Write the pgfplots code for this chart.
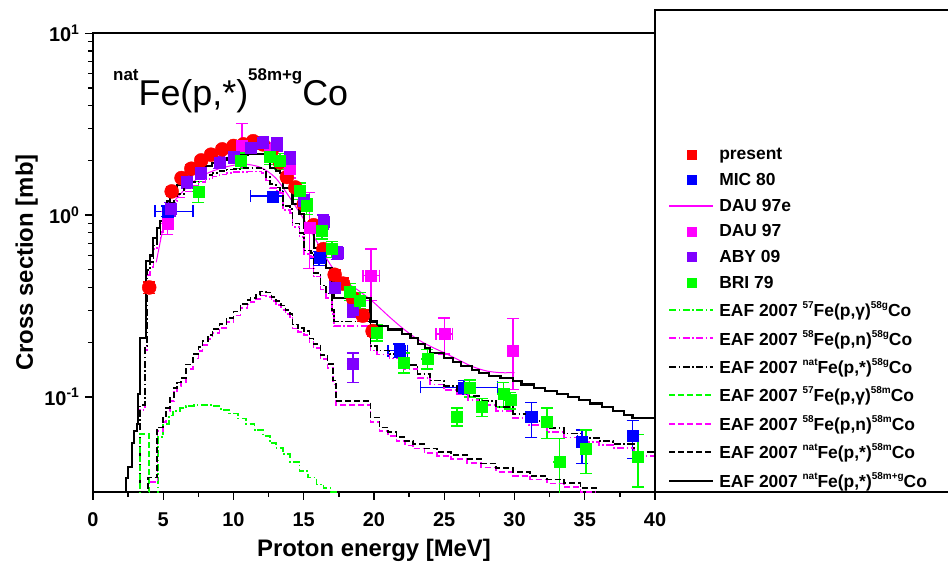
\documentclass[border=0pt]{standalone}
\usepackage{fontspec}
\setmainfont{Liberation Sans}
\usepackage{pgfplots}
\pgfplotsset{compat=1.18}
\definecolor{cred}{RGB}{255,0,0}
\definecolor{cblue}{RGB}{0,0,255}
\definecolor{cmag}{RGB}{255,0,255}
\definecolor{cvio}{RGB}{128,0,255}
\definecolor{cgrn}{RGB}{0,255,0}
\newcommand\sps[1]{\raisebox{8bp}{\fontsize{10}{10}\selectfont #1}}
\tikzset{
  dd/.style={dash pattern=on 7bp off 2.5bp on 1.5bp off 2.5bp},
  ds/.style={dash pattern=on 6bp off 3bp},
}
\pgfplotsset{
  legmark/.style={legend image code/.code={\draw[##1,mark size=4.5bp,mark=square*] plot coordinates {(22bp,0bp)};}},
  legline/.style={legend image code/.code={\draw[##1] (0bp,0bp) -- (44bp,0bp);}},
  dat/.style={only marks, mark=square*, mark size=5.5bp, color=#1, mark options={fill=#1,draw=#1},
    error bars/x dir=both, error bars/x explicit, error bars/y dir=both, error bars/y explicit,
    error bars/error bar style={line width=1.5bp,color=#1},
    error bars/error mark options={rotate=90, mark size=6bp, line width=1.5bp, color=#1}},
  eaf/.style={const plot, line width=1.7bp, color=#1},
}
\begin{document}
\begin{tikzpicture}
\useasboundingbox (0,0) rectangle (948bp,572bp);
\begin{axis}[
  at={(93bp,80bp)}, anchor=south west,
  scale only axis, width=562bp, height=458.7bp,
  ymode=log, xmin=0, xmax=40, ymin=0.03, ymax=10,
  xtick={0,5,...,40}, minor x tick num=1,
  ytick={0.1,1,10},
  yticklabels={10\textsuperscript{-1},10\textsuperscript{0},10\textsuperscript{1}},
  tick pos=left, tick align=outside,
  major tick length=8bp, minor tick length=5bp,
  every tick/.style={black, line width=1.3bp},
  axis line style={line width=1.8bp},
  /pgf/number format/assume math mode=true,
  tick label style={font=\fontsize{20}{20}\selectfont\bfseries},
  xticklabel style={anchor=base, yshift=-27bp},
  yticklabel style={anchor=east, xshift=-2bp},
  xlabel={Proton energy [MeV]},
  ylabel={Cross section [mb]},
  label style={font=\fontsize{24}{24}\selectfont\bfseries},
  xlabel style={at={(axis description cs:0.5,-0.1417)}, anchor=base},
  ylabel style={at={(axis description cs:-0.1068,0.5)}, anchor=base, rotate=0},
  legend cell align=left,
  legend style={at={(axis description cs:1,0)}, anchor=south west, xshift=13bp, yshift=1bp,
    draw=none, fill=none, inner sep=0pt, row sep=8bp,
    font=\fontsize{17.5}{17.5}\selectfont\bfseries,
    nodes={inner sep=2bp},
    /tikz/every odd column/.append style={column sep=3bp}},
]
% present
\addplot[dat=cred, mark=*, mark size=7bp, legmark] coordinates {
(4.0,0.40) +- (0,0.03)
(5.6,1.35) +- (0,0.08)
(6.3,1.6) +- (0,0.09)
(7.0,1.8) +- (0,0.1)
(7.7,2.0) +- (0,0.1)
(8.4,2.15) +- (0,0.1)
(9.2,2.3) +- (0,0.1)
(10.0,2.4) +- (0,0.1)
(10.7,2.45) +- (0,0.1)
(11.4,2.55) +- (0,0.1)
(12.1,2.45) +- (0,0.1)
(12.7,2.25) +- (0,0.1)
(13.3,1.95) +- (0,0.1)
(13.8,1.62) +- (0,0.08)
(14.4,1.42) +- (0,0.07)
(15.0,1.15) +- (0,0.06)
(15.7,0.88) +- (0,0.05)
(16.4,0.65) +- (0,0.04)
(17.2,0.47) +- (0,0.03)
(17.8,0.42) +- (0,0.03)
(18.5,0.35) +- (0,0.02)
(19.2,0.28) +- (0,0.02)
(19.9,0.23) +- (0,0.015)
};
\addlegendentry{present}
% MIC 80
\addplot[dat=cblue, legmark] coordinates {
(5.3,1.05) += (1.8,0.07) -= (0.9,0.07)
(12.8,1.27) += (0.7,0.08) -= (1.6,0.08)
(16.1,0.58) += (0.5,0.05) -= (0.7,0.05)
(21.8,0.18) += (0.6,0.015) -= (0.8,0.015)
(26.4,0.113) += (2.4,0.01) -= (3.1,0.01)
(31.2,0.078) += (0.4,0.015) -= (0.4,0.018)
(34.8,0.057) += (0.3,0.009) -= (0.3,0.014)
(38.4,0.061) += (0.2,0.013) -= (0.2,0.015)
};
\addlegendentry{MIC 80}
% DAU 97e
\addplot[color=cmag, draw=cmag, line width=1bp, smooth,
  legend image code/.code={\draw[draw=cmag, line width=1.6bp] (0bp,0bp) -- (44bp,0bp);}] coordinates {
(4.5,0.55) (5,0.85) (5.5,1.1) (6,1.25) (7,1.5) (8,1.68) (9,1.8) (10,1.88) (11,1.9)
(12,1.82) (13,1.6) (14,1.25) (15,0.95) (16,0.7) (17,0.52) (18,0.43) (19,0.38)
(20,0.33) (21,0.28) (22,0.24) (23,0.21) (24,0.19) (25,0.175) (26,0.16)
(27,0.147) (28,0.139) (29,0.136) (30,0.136)
};
\addlegendentry{DAU 97e}
% DAU 97
\addplot[dat=cmag, legmark] coordinates {
(5.3,0.9) += (0,0.15) -= (0,0.12)
(10.6,2.4) += (0,0.8) -= (0,0.6)
(12.6,2.3) += (0,0.2) -= (0,0.2)
(14.0,1.8) += (0,0.2) -= (0,0.2)
(15.4,0.85) += (0,0.48) -= (0,0.34)
(19.8,0.465) += (0.6,0.185) -= (0.6,0.125)
(25.0,0.222) += (0.6,0.05) -= (0.6,0.05)
(29.9,0.18) += (0,0.09) -= (0,0.07)
};
\addlegendentry{DAU 97}
% ABY 09
\addplot[dat=cvio, legmark] coordinates {
(5.5,1.08) +- (0,0.09)
(6.7,1.52) +- (0,0.12)
(7.7,1.72) +- (0,0.14)
(9.0,1.95) +- (0,0.15)
(10.0,2.1) +- (0,0.17)
(11.2,2.35) +- (0,0.19)
(12.1,2.5) +- (0,0.2)
(13.1,2.45) +- (0,0.2)
(14.0,2.05) +- (0,0.17)
(15.0,1.2) +- (0,0.1)
(16.4,0.92) +- (0,0.08)
(17.4,0.62) +- (0,0.05)
(17.2,0.40) +- (0,0.03)
(18.5,0.30) +- (0,0.025)
(18.5,0.152) += (0,0.023) -= (0,0.032)
};
\addlegendentry{ABY 09}
% BRI 79
\addplot[dat=cgrn, legmark] coordinates {
(7.5,1.35) +- (0,0.18)
(10.5,2.0) +- (0,0.2)
(12.6,2.1) +- (0,0.2)
(13.3,1.98) +- (0,0.2)
(14.7,1.36) +- (0,0.14)
(15.2,1.12) +- (0,0.11)
(16.3,0.82) +- (0,0.08)
(17.0,0.65) +- (0,0.065)
(18.3,0.38) +- (0,0.04)
(19.0,0.34) +- (0,0.035)
(20.2,0.226) +- (0,0.023)
(22.1,0.155) +- (0,0.02)
(23.8,0.162) +- (0,0.02)
(25.9,0.078) +- (0,0.009)
(26.8,0.112) +- (0,0.012)
(27.7,0.088) +- (0,0.01)
(29.2,0.104) +- (0,0.016)
(29.7,0.096) +- (0,0.01)
(32.3,0.073) +- (0,0.014)
(33.2,0.044) +- (0,0.015)
(35.1,0.052) +- (0,0.014)
(38.8,0.047) +- (0,0.015)
};
\addlegendentry{BRI 79}
% EAF 57Fe(p,g)58gCo
\addplot[eaf=cgrn, dd, legline] coordinates {
(4.6,0.02) (4.65,0.06) (5.0,0.071) (5.4,0.079) (5.7,0.084) (6.2,0.087) (6.6,0.089)
(7.2,0.09) (7.8,0.09) (8.5,0.089) (9.1,0.085) (9.7,0.081) (10.3,0.076) (10.9,0.071)
(11.5,0.066) (12.1,0.061) (12.6,0.056) (13.0,0.0525) (13.5,0.0485) (14.0,0.044)
(14.7,0.039) (15.3,0.036) (15.9,0.033) (16.4,0.0315) (16.9,0.030) (17.5,0.028) (18,0.028)
};
\addlegendentry{EAF 2007 \sps{57}Fe(p,γ)\sps{58g}Co}
% EAF 58Fe(p,n)58gCo
\addplot[eaf=cmag, dd, legline] coordinates {
(3.3,0.02) (3.35,0.085) (3.7,0.18) (3.85,0.47) (4.05,0.52) (4.3,0.65) (4.55,0.74)
(4.8,0.81) (5.0,0.9) (5.25,1.03) (5.5,1.11) (5.75,1.19) (6.0,1.25) (6.5,1.35)
(7.0,1.45) (7.5,1.52) (8.0,1.58) (8.5,1.63) (9.0,1.67) (9.5,1.7) (10.0,1.72)
(10.5,1.73) (11.0,1.74) (11.5,1.74) (12.0,1.7) (12.3,1.55) (12.6,1.41) (13.0,1.36)
(13.3,1.32) (13.5,1.07) (14.0,1.03) (14.2,0.86) (14.7,0.76) (15.0,0.61) (15.5,0.59)
(15.7,0.46) (16.2,0.39) (16.6,0.35) (17.0,0.285) (17.15,0.245) (19.75,0.18)
(20.2,0.171) (21.1,0.163) (22.1,0.143) (23.1,0.127) (24.0,0.117) (25.0,0.109)
(25.9,0.103) (26.7,0.096) (27.5,0.09) (28.7,0.084) (29.9,0.0766) (31.0,0.0703)
(32.3,0.0641) (33.5,0.0599) (34.7,0.0567) (36.0,0.0542) (37.0,0.0523) (38.5,0.0475)
(40,0.0466)
};
\addlegendentry{EAF 2007 \sps{58}Fe(p,n)\sps{58g}Co}
% EAF natFe(p,*)58gCo
\addplot[eaf=black, dd, legline] coordinates {
(3.3,0.02) (3.35,0.09) (3.7,0.19) (3.85,0.50) (4.05,0.55) (4.3,0.68) (4.55,0.78)
(4.8,0.85) (5.0,0.95) (5.25,1.08) (5.5,1.17) (5.75,1.25) (6.0,1.31) (6.5,1.42)
(7.0,1.52) (7.5,1.6) (8.0,1.66) (8.5,1.71) (9.0,1.75) (9.5,1.78) (10.0,1.8)
(10.5,1.81) (11.0,1.82) (11.5,1.82) (12.0,1.78) (12.3,1.62) (12.6,1.48) (13.0,1.42)
(13.3,1.38) (13.5,1.12) (14.0,1.08) (14.2,0.9) (14.7,0.8) (15.0,0.64) (15.5,0.62)
(15.7,0.48) (16.2,0.41) (16.6,0.37) (17.0,0.30) (17.15,0.26) (19.75,0.19)
(20.2,0.18) (21.1,0.172) (22.1,0.15) (23.1,0.134) (24.0,0.123) (25.0,0.115)
(25.9,0.108) (26.7,0.101) (27.5,0.095) (28.7,0.088) (29.9,0.0806) (31.0,0.074)
(32.3,0.0675) (33.5,0.063) (34.7,0.0597) (36.0,0.057) (37.0,0.055) (38.5,0.050)
(40,0.049)
};
\addlegendentry{EAF 2007 \sps{nat}Fe(p,*)\sps{58g}Co}
% EAF 57Fe(p,g)58mCo
\addplot[eaf=cgrn, ds, legline] coordinates {
(3.3,0.02) (3.35,0.0625) (4.0,0.02) (4.1,0.02)
};
\addlegendentry{EAF 2007 \sps{57}Fe(p,γ)\sps{58m}Co}
% EAF 58Fe(p,n)58mCo
\addplot[eaf=cmag, ds, legline] coordinates {
(3.85,0.02) (3.95,0.034) (4.6,0.065) (5.0,0.073) (5.2,0.083) (5.5,0.095) (5.75,0.106)
(6.0,0.114) (6.25,0.121) (6.6,0.143) (7.1,0.163) (7.5,0.179) (7.8,0.193) (8.2,0.209)
(8.5,0.224) (9.0,0.239) (9.5,0.258) (10.0,0.28) (10.5,0.308) (11.0,0.323) (11.2,0.333)
(11.6,0.347) (11.9,0.361) (12.3,0.356) (12.7,0.337) (13.0,0.32) (13.4,0.302)
(13.7,0.285) (14.0,0.272) (14.2,0.238) (14.6,0.228) (15.0,0.219) (15.4,0.2)
(15.7,0.186) (16.2,0.162) (16.7,0.144) (17.1,0.117) (17.3,0.09) (19.75,0.073)
(20.4,0.065) (21.0,0.061) (21.6,0.057) (22.2,0.054) (22.8,0.052) (23.6,0.049)
(24.5,0.0475) (25.5,0.0456) (26.6,0.0432) (27.6,0.0409) (28.7,0.0388) (29.9,0.0369)
(31.1,0.0351) (32.3,0.0334) (33.5,0.032) (34.7,0.030) (35.8,0.0285) (36.3,0.0285)
};
\addlegendentry{EAF 2007 \sps{58}Fe(p,n)\sps{58m}Co}
% EAF natFe(p,*)58mCo
\addplot[eaf=black, ds, legline] coordinates {
(3.85,0.02) (3.9,0.036) (4.55,0.068) (5.0,0.077) (5.2,0.087) (5.5,0.1) (5.75,0.112)
(6.0,0.12) (6.25,0.127) (6.6,0.151) (7.1,0.172) (7.5,0.188) (7.8,0.203) (8.2,0.22)
(8.5,0.236) (9.0,0.252) (9.5,0.272) (10.0,0.295) (10.5,0.324) (11.0,0.34) (11.2,0.35)
(11.6,0.365) (11.9,0.38) (12.3,0.375) (12.7,0.355) (13.0,0.337) (13.4,0.318)
(13.7,0.30) (14.0,0.286) (14.2,0.25) (14.6,0.24) (15.0,0.23) (15.4,0.21) (15.7,0.196)
(16.2,0.17) (16.7,0.152) (17.1,0.123) (17.3,0.095) (19.75,0.077) (20.4,0.068)
(21.0,0.064) (21.6,0.06) (22.2,0.057) (22.8,0.055) (23.6,0.052) (24.5,0.05)
(25.5,0.048) (26.6,0.0455) (27.6,0.043) (28.7,0.0408) (29.9,0.0388) (31.1,0.0369)
(32.3,0.0352) (33.5,0.0337) (34.7,0.0316) (35.8,0.030) (36.3,0.029)
};
\addlegendentry{EAF 2007 \sps{nat}Fe(p,*)\sps{58m}Co}
% EAF natFe(p,*)58m+gCo
\addplot[eaf=black, line width=2.1bp, legline] coordinates {
(2.2,0.02) (2.35,0.036) (2.5,0.041) (2.75,0.056) (2.9,0.065) (3.1,0.071) (3.2,0.104)
(3.35,0.21) (3.8,0.56) (4.05,0.60) (4.3,0.75) (4.55,0.85) (4.8,0.93) (5.0,1.05)
(5.25,1.2) (5.5,1.3) (5.75,1.4) (6.0,1.47) (6.5,1.6) (7.0,1.7) (7.5,1.8) (8.0,1.87)
(8.5,1.94) (9.0,2.0) (9.5,2.05) (10.0,2.1) (10.5,2.13) (11.0,2.17) (11.5,2.18)
(12.0,2.17) (12.3,2.0) (12.6,1.82) (13.0,1.75) (13.3,1.7) (13.5,1.41) (14.0,1.36)
(14.2,1.15) (14.7,1.02) (15.0,0.85) (15.5,0.82) (15.7,0.66) (16.2,0.56) (16.6,0.51)
(17.0,0.43) (17.15,0.35) (19.75,0.26) (20.2,0.246) (21.0,0.235) (22.0,0.222)
(22.6,0.21) (23.1,0.196) (23.6,0.185) (24.0,0.175) (25.0,0.164) (25.6,0.156)
(26.2,0.148) (27.0,0.141) (27.5,0.136) (28.2,0.131) (29.0,0.127) (29.9,0.122)
(30.5,0.117) (31.4,0.112) (32.2,0.108) (33.0,0.104) (33.8,0.100) (34.6,0.096)
(35.4,0.092) (36.2,0.088) (37.0,0.084) (37.8,0.080) (38.4,0.077) (40,0.077)
};
\addlegendentry{EAF 2007 \sps{nat}Fe(p,*)\sps{58m+g}Co}
\end{axis}
\draw[line width=1.8bp] (655bp,80bp) rectangle (960bp,562bp);
\node[anchor=base west, inner sep=0pt, font=\fontsize{36}{36}\selectfont] at (113bp,466bp)
  {\raisebox{25bp}{\fontsize{17}{17}\selectfont\bfseries nat}Fe(p,*)\raisebox{25bp}{\fontsize{17}{17}\selectfont\bfseries 58m+g}Co};
\end{tikzpicture}
\end{document}
